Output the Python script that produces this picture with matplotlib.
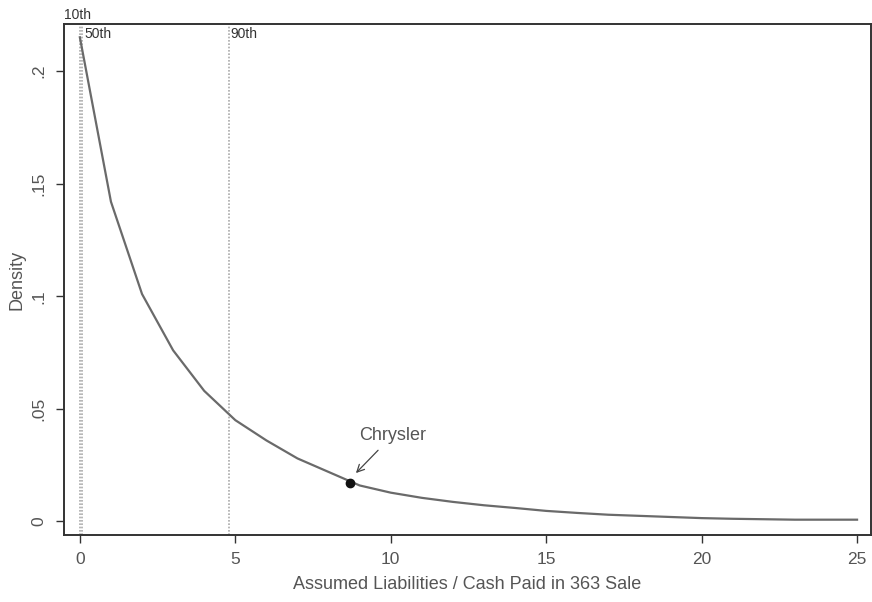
import matplotlib
matplotlib.use("Agg")
import matplotlib.pyplot as plt
import numpy as np

plt.rcParams["font.family"] = ["Liberation Sans", "DejaVu Sans"]

# density curve
ratio = [0, 1, 2, 3, 4, 5, 6, 7, 8, 9, 10, 11, 12, 13, 14, 15, 16, 17,
         18, 19, 20, 21, 22, 23, 24, 25]
density = [0.215, 0.142, 0.101, 0.076, 0.058, 0.045, 0.036, 0.028, 0.022,
           0.016, 0.0128, 0.0105, 0.0087, 0.0072, 0.006, 0.0047, 0.0038,
           0.003, 0.0025, 0.002, 0.0015, 0.0012, 0.001, 0.0008, 0.0008,
           0.0008]

pct_labels = ["10th", "50th", "90th"]
pct_values = [0.0, 0.08, 4.79]

chrysler_x = 8.7
chrysler_y = 0.017

xticks = [0, 5, 10, 15, 20, 25]
yticks = [0, 0.05, 0.1, 0.15, 0.2]
ytick_labels = ["0", ".05", ".1", ".15", ".2"]

fig = plt.figure(figsize=(8.72, 6.02), dpi=100)
ax = fig.add_axes([0.0734, 0.1113, 0.9255, 0.8488])

for v in pct_values:
    ax.axvline(v, color="#aaaaaa", linestyle=(0, (1, 1)), linewidth=1.2, zorder=1)

ax.plot(ratio, density, color="#6a6a6a", linewidth=1.6, zorder=2)
ax.plot([chrysler_x], [chrysler_y], "o", color="#111111", markersize=6, zorder=3)

ax.annotate("Chrysler", xy=(8.88, 0.0215), xytext=(10.07, 0.0384),
            ha="center", va="center", fontsize=13, color="#555555",
            arrowprops=dict(arrowstyle="->", color="#444444", lw=0.9,
                            shrinkA=4, shrinkB=0))

# percentile labels (10th sits above the frame)
ax.text(0.0, 1.004, pct_labels[0], transform=ax.transAxes, ha="left",
        va="bottom", fontsize=10, color="#333333")
ax.text(pct_values[1] + 0.08, 0.2195, pct_labels[1], ha="left", va="top",
        fontsize=10, color="#333333")
ax.text(pct_values[2] + 0.05, 0.2195, pct_labels[2], ha="left", va="top",
        fontsize=10, color="#333333")

ax.set_xlim(-0.51, 25.45)
ax.set_ylim(-0.006, 0.2209)
ax.set_xticks(xticks)
ax.set_yticks(yticks)
ax.set_yticklabels(ytick_labels, rotation=90, va="center")
ax.tick_params(axis="both", direction="out", length=6, width=1.0,
               color="#333333", labelsize=12.5, labelcolor="#555555", pad=6)
ax.tick_params(axis="y", pad=7)

for s in ax.spines.values():
    s.set_color("#333333")
    s.set_linewidth(1.4)

ax.set_xlabel("Assumed Liabilities / Cash Paid in 363 Sale", fontsize=13,
              color="#555555", labelpad=7)
ax.set_ylabel("Density", fontsize=13, color="#555555", labelpad=4)

fig.savefig("out.png", dpi=100)
